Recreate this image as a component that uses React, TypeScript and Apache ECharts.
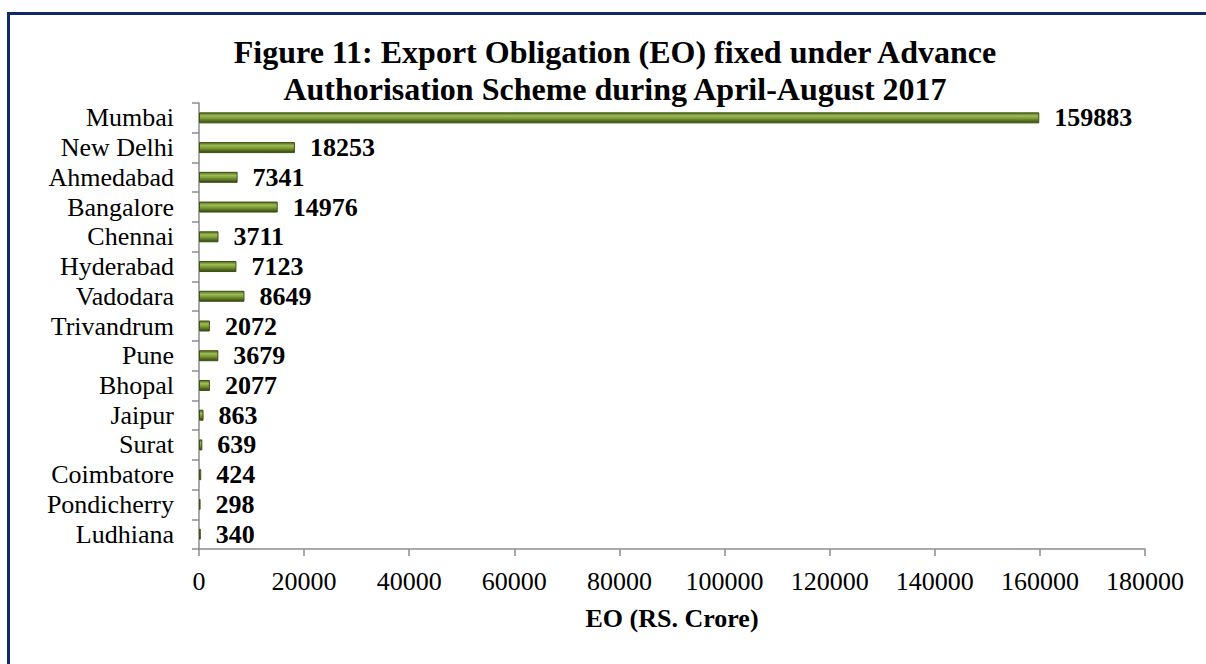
import React, { useEffect, useRef } from "react";
import * as echarts from "echarts";

const categories = [
  "Mumbai", "New Delhi", "Ahmedabad", "Bangalore", "Chennai", "Hyderabad", "Vadodara",
  "Trivandrum", "Pune", "Bhopal", "Jaipur", "Surat", "Coimbatore", "Pondicherry", "Ludhiana",
];
const eoValues = [159883, 18253, 7341, 14976, 3711, 7123, 8649, 2072, 3679, 2077, 863, 639, 424, 298, 340];
const titleLines = [
  "Figure 11: Export Obligation (EO) fixed under Advance",
  "Authorisation Scheme during April-August 2017",
];
const axisName = "EO (RS. Crore)";
const xMin = 0;
const xMax = 180000;
const xStep = 20000;

const FONT = "'Liberation Serif', 'Times New Roman', serif";

export default function App() {
  const ref = useRef<HTMLDivElement>(null);
  useEffect(() => {
    document.body.style.margin = "0";
    if (!ref.current) return;
    const chart = echarts.init(ref.current, null, { renderer: "svg" });
    const barGradient = new echarts.graphic.LinearGradient(0, 0, 0, 1, [
      { offset: 0, color: "#556a1e" },
      { offset: 0.3, color: "#9dbc55" },
      { offset: 0.55, color: "#7c9c38" },
      { offset: 1, color: "#34440f" },
    ]);
    chart.setOption({
      animation: false,
      backgroundColor: "#ffffff",
      textStyle: { fontFamily: FONT },
      graphic: [
        {
          type: "rect",
          shape: { x: 8.5, y: 13.5, width: 1400, height: 800 },
          style: { fill: "none", stroke: "#0d2b6b", lineWidth: 3 },
          silent: true,
          z: 10,
        },
        {
          type: "text",
          x: 615,
          y: 52,
          style: {
            text: titleLines[0],
            font: `bold 32px ${FONT}`,
            fill: "#000",
            textAlign: "center",
            textVerticalAlign: "middle",
          },
        },
        {
          type: "text",
          x: 615,
          y: 89,
          style: {
            text: titleLines[1],
            font: `bold 32px ${FONT}`,
            fill: "#000",
            textAlign: "center",
            textVerticalAlign: "middle",
          },
        },
      ],
      grid: { left: 199, right: 61, top: 103, bottom: 115, containLabel: false },
      xAxis: {
        type: "value",
        min: xMin,
        max: xMax,
        interval: xStep,
        name: axisName,
        nameLocation: "middle",
        nameGap: 56,
        nameTextStyle: { fontFamily: FONT, fontSize: 26, fontWeight: "bold", color: "#000" },
        axisLine: { show: true, lineStyle: { color: "#8c8c8c", width: 1.5 } },
        axisTick: { show: true, length: 7, lineStyle: { color: "#8c8c8c", width: 1.5 } },
        splitLine: { show: false },
        axisLabel: {
          fontFamily: FONT,
          fontSize: 26,
          color: "#000",
          margin: 19,
          formatter: (v: number) => String(v),
        },
      },
      yAxis: {
        type: "category",
        data: categories,
        inverse: true,
        axisLine: { show: true, lineStyle: { color: "#8c8c8c", width: 1.5 } },
        axisTick: { show: true, length: 7, interval: 0, lineStyle: { color: "#8c8c8c", width: 1.5 } },
        axisLabel: { fontFamily: FONT, fontSize: 26, color: "#000", margin: 25, interval: 0 },
      },
      series: [
        {
          type: "bar",
          data: eoValues,
          barWidth: 11,
          itemStyle: { color: barGradient, borderColor: "#3f5014", borderWidth: 1 },
          label: {
            show: true,
            position: "right",
            distance: 15,
            fontFamily: FONT,
            fontSize: 26,
            fontWeight: "bold",
            color: "#000",
          },
        },
      ],
    });
    return () => chart.dispose();
  }, []);
  return <div ref={ref} style={{ width: 1206, height: 664 }} />;
}
